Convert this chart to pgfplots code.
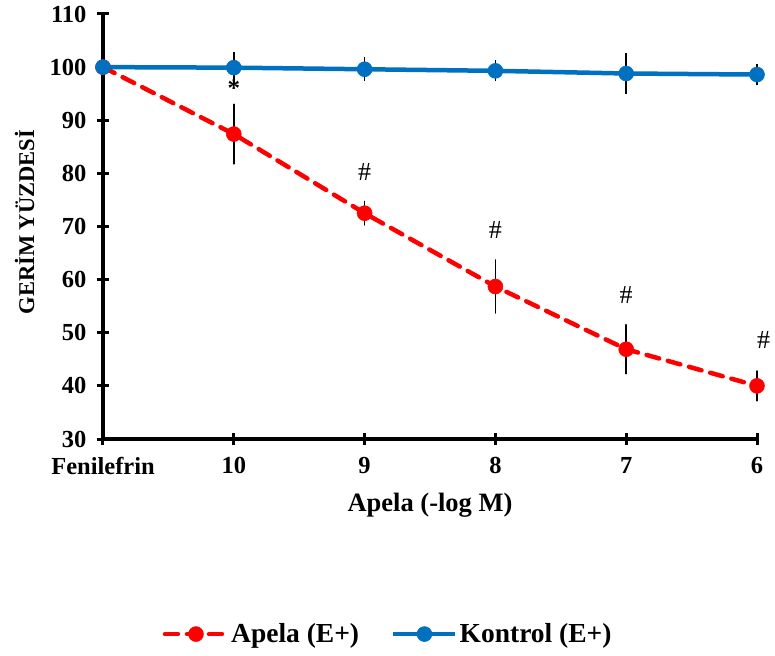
\documentclass[border=0pt]{standalone}
\usepackage{pgfplots}
\pgfplotsset{compat=1.18}
\usepackage{fontspec}
\setmainfont{Liberation Serif}
\definecolor{kblue}{HTML}{0070C0}
\definecolor{ared}{HTML}{FF0000}
\begin{document}
\begin{tikzpicture}
\useasboundingbox (-103pt,-216pt) rectangle (672pt,439pt);
\begin{axis}[
  scale only axis, width=654pt, height=425pt,
  at={(0pt,0pt)}, anchor=south west,
  xmin=0, xmax=5, ymin=30, ymax=110,
  axis x line*=bottom, axis y line*=left,
  axis line style={line width=3.5pt, black, -},
  xtick={0,1,2,3,4,5},
  xticklabels={Fenilefrin,10,9,8,7,6},
  ytick={30,40,...,110},
  tick align=center, major tick length=12pt,
  tick style={line width=3pt, black},
  /pgf/number format/assume math mode=true,
  tick label style={font=\fontsize{24.5}{28}\selectfont\bfseries},
  xticklabel style={yshift=-9pt},
  yticklabel style={xshift=-7pt},
  xlabel={Apela (-log M)},
  xlabel style={font=\fontsize{26.5}{30}\selectfont\bfseries, at={(axis description cs:0.5,-0.157)}, anchor=center},
  ylabel={GERİM YÜZDESİ},
  ylabel style={font=\fontsize{22.5}{26}\selectfont\bfseries, at={(axis description cs:-0.12,0.51)}, anchor=center, rotate=0},
  clip=false,
  legend columns=2,
  legend style={draw=none, fill=none, at={(axis description cs:0.436,-0.459)}, anchor=center,
    font=\fontsize{27.5}{30}\selectfont\bfseries, /tikz/every even column/.append style={column sep=30pt}},
  legend image code/.code={\draw[mark repeat=2,mark phase=2,#1] plot coordinates {(0pt,0pt) (31pt,0pt) (62pt,0pt)};},
]
\addplot[ared, line width=4.5pt, dash pattern=on 13pt off 9pt, line cap=round,
  mark=*, mark size=7.5pt, mark options={solid, fill=ared, draw=ared, line width=0.5pt},
  error bars/.cd, y dir=both, y explicit, error mark=none,
  error bar style={black, line width=1.6pt, solid}]
  table[x=x, y=y, y error=e] {
x y e
0 100.0 0
1 87.4 5.6
2 72.5 2.2
3 58.7 5.0
4 46.9 4.6
5 40.0 2.8
};
\addlegendentry{Apela (E+)}
\addplot[kblue, line width=4.5pt,
  mark=*, mark size=7.5pt, mark options={solid, fill=kblue, draw=kblue, line width=0.5pt},
  error bars/.cd, y dir=both, y explicit, error mark=none,
  error bar style={black, line width=1.6pt, solid}]
  table[x=x, y=y, y error=e] {
x y e
0 100.0 0
1 99.9 3.0
2 99.6 2.3
3 99.3 2.0
4 98.8 3.8
5 98.6 2.0
};
\addlegendentry{Kontrol (E+)}
\node[font=\fontsize{25}{28}\selectfont\bfseries] at (axis cs:1,96.0) {*};
\node[font=\fontsize{26}{28}\selectfont] at (axis cs:2,80.3) {\#};
\node[font=\fontsize{26}{28}\selectfont] at (axis cs:3,69.4) {\#};
\node[font=\fontsize{26}{28}\selectfont] at (axis cs:4,57.1) {\#};
\node[font=\fontsize{26}{28}\selectfont] at (axis cs:5.05,48.6) {\#};
\end{axis}
\end{tikzpicture}
\end{document}
